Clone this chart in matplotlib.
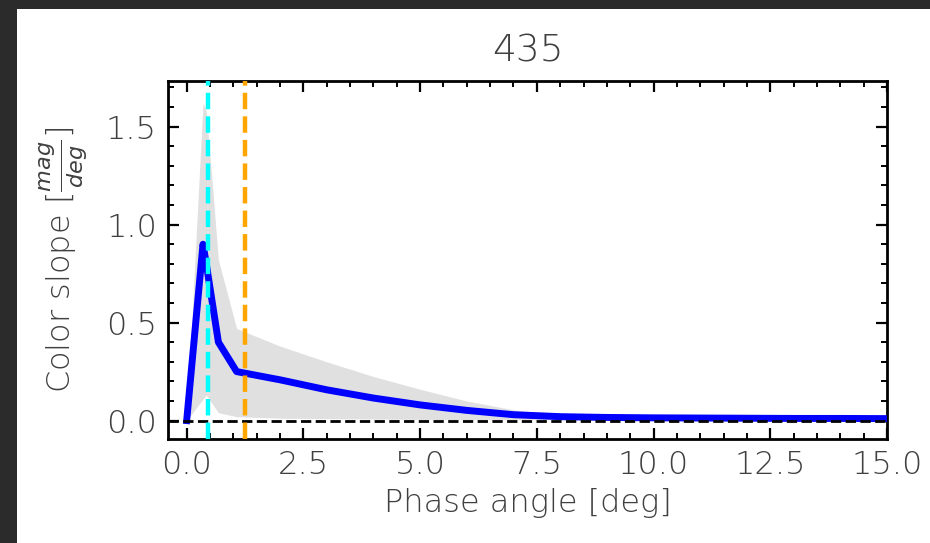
import numpy as np
import matplotlib
matplotlib.use("Agg")
import matplotlib.pyplot as plt
from matplotlib.patches import Rectangle
from matplotlib.ticker import MultipleLocator

# phase angle grid and colour slope estimate with its band
phase = [0.0, 0.35, 0.42, 0.68, 1.07, 2.0, 3.0, 4.0, 5.0, 6.0, 7.0, 8.0,
         9.0, 10.0, 11.0, 12.0, 13.0, 14.0, 15.0]
slope = [0.0, 0.90, 0.80, 0.40, 0.25, 0.208, 0.157, 0.115, 0.08, 0.052,
         0.03, 0.02, 0.016, 0.014, 0.013, 0.012, 0.011, 0.011, 0.010]
upper = [0.0, 1.62, 1.58, 0.82, 0.47, 0.38, 0.30, 0.225, 0.16, 0.10,
         0.055, 0.028, 0.022, 0.019, 0.017, 0.015, 0.014, 0.013, 0.012]
lower = [0.0, 0.11, 0.13, 0.04, 0.02, 0.012, 0.010, 0.008, 0.006, 0.005,
         0.005, 0.005, 0.005, 0.005, 0.005, 0.005, 0.005, 0.005, 0.005]
marker_lines = {"cyan": 0.46, "orange": 1.25}
title = "435"

text_color = "#404040"
plt.rcParams["font.family"] = ["DejaVu Sans"]
plt.rcParams["font.weight"] = "light"
plt.rcParams["axes.labelweight"] = "light"
plt.rcParams["axes.titleweight"] = "light"
plt.rcParams["mathtext.fontset"] = "dejavusans"

fig = plt.figure(figsize=(9.3, 5.43), dpi=100, facecolor="#2b2b2b")
fig.patches.append(Rectangle((17 / 930, 0), 1, 1 - 9 / 543, transform=fig.transFigure,
                             facecolor="white", edgecolor="none", zorder=-10))

ax = fig.add_axes([168 / 930, 104 / 543, (887 - 168) / 930, (439 - 81) / 543])
ax.fill_between(phase, lower, upper, color="#e0e0e0", linewidth=0, zorder=1)
ax.plot(phase, slope, color="blue", lw=5, zorder=3)
ax.axhline(0, color="black", ls="--", lw=2, zorder=4)
for c, xv in marker_lines.items():
    ax.axvline(xv, color=c, ls="--", lw=3.2, zorder=5)

ax.set_xlim(-0.4, 15)
ax.set_ylim(-0.094, 1.733)
ax.xaxis.set_major_locator(MultipleLocator(2.5))
ax.xaxis.set_minor_locator(MultipleLocator(0.5))
ax.yaxis.set_major_locator(MultipleLocator(0.5))
ax.yaxis.set_minor_locator(MultipleLocator(0.1))
ax.tick_params(which="both", direction="in", top=True, right=True,
               labelsize=23, labelcolor=text_color, pad=8)
ax.tick_params(which="major", length=8, width=1.6)
ax.tick_params(which="minor", length=4, width=1.4)
for s in ax.spines.values():
    s.set_linewidth(2)

ax.set_xlabel("Phase angle [deg]", fontsize=23, color=text_color, labelpad=6)
ax.set_ylabel(r"Color slope [$\frac{mag}{deg}$]", fontsize=23, color=text_color, labelpad=12)
ax.set_title(title, fontsize=27, color=text_color, pad=14)

fig.savefig("out.png", dpi=100, facecolor=fig.get_facecolor())
